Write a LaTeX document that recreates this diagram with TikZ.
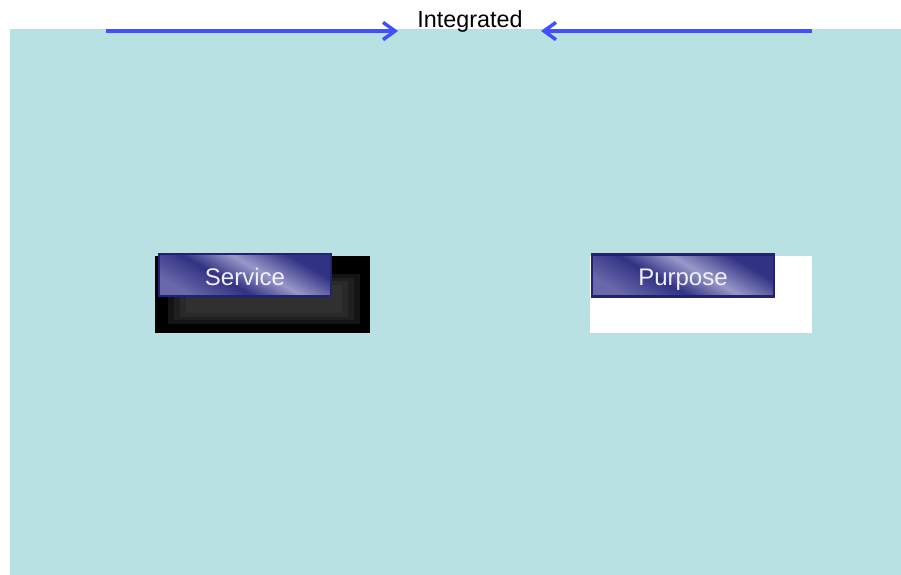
\documentclass[tikz,border=0pt]{standalone}
\usepackage{fontspec}
\setmainfont{Liberation Sans}
\usetikzlibrary{arrows.meta}
\definecolor{bgcyan}{RGB}{185,224,227}
\definecolor{arrowblue}{RGB}{64,80,255}
\definecolor{btndark}{RGB}{50,50,132}
\definecolor{btnmid}{RGB}{104,104,170}
\definecolor{btnlight}{RGB}{152,152,202}
\definecolor{btnedge}{RGB}{34,34,116}
\pgfdeclarehorizontalshading{btnshade}{100bp}{color(0bp)=(btnmid); color(25bp)=(btnmid);
  color(42bp)=(btndark); color(56bp)=(btnlight); color(72bp)=(btndark); color(100bp)=(btndark)}
\tikzset{
  bigarrow/.style={color=arrowblue, line width=3.4pt, -{Straight Barb[length=9pt,width=13pt,line width=2.6pt]}},
  button/.style={draw=btnedge, line width=1.6pt, shading=btnshade, shading angle=60,
    text=white!94!blue, inner sep=0pt, minimum height=31.5pt, text height=17pt, text depth=2pt,
    font=\fontsize{18}{21}\selectfont},
}
\begin{document}
\begin{tikzpicture}[x=0.75pt,y=0.75pt,yscale=-1,xscale=1]
\useasboundingbox (0,0) rectangle (901,575);

% background panel
\fill [bgcyan] (10,29) rectangle (901,575);

% Text Node
\node (integ) at (470,21) {\fontsize{17.5}{20}\selectfont Integrated};
\coordinate (lstart) at (106,31);
\coordinate (lend) at (398,31);
\coordinate (rstart) at (812,31);
\coordinate (rend) at (541,31);
% Arrows towards the title
\draw [bigarrow] (lstart) -- (lend);
\draw [bigarrow] (rstart) -- (rend);

% Black box behind Service
\fill [black] (155,256) rectangle (370,333);
\foreach \i/\g in {0/8,6/12,12/16,18/19}
  \fill [white!\g!black] (168+\i,274+0.6*\i) rectangle (360-\i,324-0.6*\i);

% White box behind Purpose
\fill [white] (590,256) rectangle (812,333);

% Buttons
\node [button, minimum width=129pt] (service) at (245,275) {Service};
\node [button, minimum width=136.5pt] (purpose) at (683,275.5) {Purpose};

\end{tikzpicture}
\end{document}
